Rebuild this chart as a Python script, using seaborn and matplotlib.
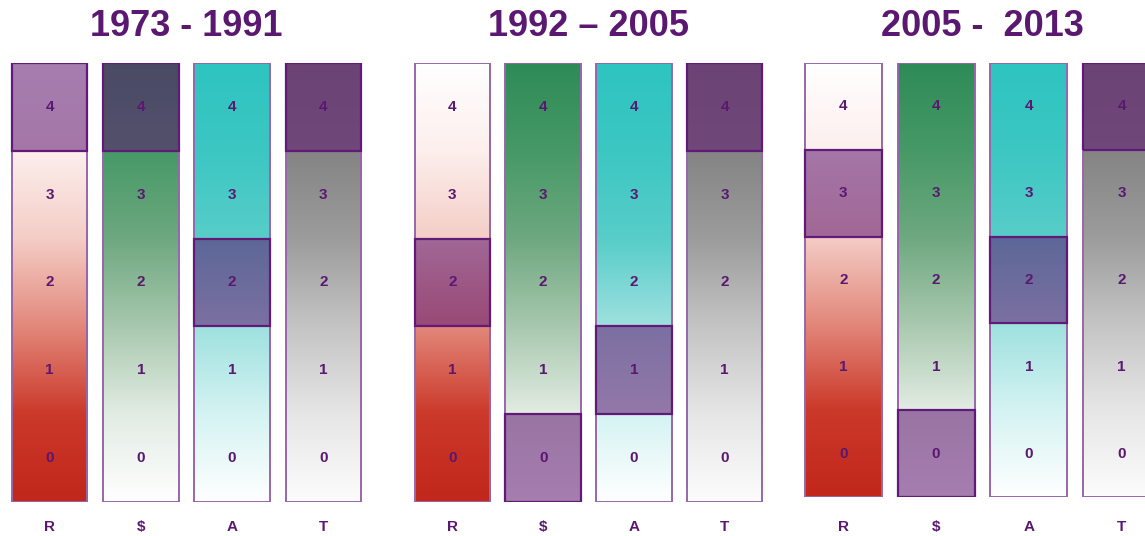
import numpy as np
import matplotlib.pyplot as plt
from matplotlib.patches import Rectangle
from matplotlib.transforms import blended_transform_factory
import seaborn as sns

# data
periods = ["1973 - 1991", "1992 – 2005", "2005 -  2013"]
factors = ["R", "$", "A", "T"]
levels = [0, 1, 2, 3, 4]

# highlighted level of each factor (R, $, A, T) in each period
rating_1973 = [4, 4, 2, 4]
rating_1992 = [2, 0, 1, 4]
rating_2005 = [3, 0, 2, 4]
ratings = [rating_1973, rating_1992, rating_2005]

# colour stops of each column, bottom (0) -> top (5)
grad_R = ["#c1271b", "#cb392a", "#e2887b", "#f4cdc6", "#fcefed", "#ffffff"]
grad_S = ["#ffffff", "#e2ece3", "#a8c8ae", "#6ea880", "#469966", "#2e8b57"]
grad_A = ["#ffffff", "#d4f3f2", "#9ee1df", "#58cdc9", "#3cc7c3", "#2ec4c0"]
grad_T = ["#fcfcfc", "#e6e6e6", "#c4c4c4", "#9c9c9c", "#848484", "#7a7a7a"]
gradients = [grad_R, grad_S, grad_A, grad_T]

purple = "#5a1870"

sns.set_theme(style="white")
plt.rcParams["font.family"] = ["Liberation Sans", "DejaVu Sans"]

W, H = 1145, 536
fig = plt.figure(figsize=(W / 100, H / 100), dpi=100)

# panel frames in pixels: left, right, top, bottom
panel_px = [(4, 369, 63, 502), (407, 770, 63, 502), (797, 1168, 63, 497)]
bar_w = 0.83
ramp = np.linspace(0, 1, 256).reshape(-1, 1)

for p, (title, rating) in enumerate(zip(periods, ratings)):
    l, r, t, b = panel_px[p]
    ax = fig.add_axes([l / W, (H - b) / H, (r - l) / W, (b - t) / H])
    ax.set_xlim(-0.5, len(factors) - 0.5)
    ax.set_ylim(0, len(levels))
    ax.axis("off")
    trans = blended_transform_factory(ax.transData, fig.transFigure)

    for i, f in enumerate(factors):
        cmap = sns.blend_palette(gradients[i], as_cmap=True)
        x0 = i - bar_w / 2
        ax.imshow(ramp, extent=[x0, x0 + bar_w, 0, len(levels)], origin="lower",
                  cmap=cmap, aspect="auto", vmin=0, vmax=1, interpolation="bilinear")
        ax.add_patch(Rectangle((x0, 0), bar_w, len(levels), facecolor="none",
                               edgecolor="#9766aa", lw=1.4))
        # highlighted level
        lv = rating[i]
        ax.add_patch(Rectangle((x0, lv), bar_w, 1, facecolor="#601871", alpha=0.56,
                               edgecolor="none"))
        ax.add_patch(Rectangle((x0, lv), bar_w, 1, facecolor="none",
                               edgecolor="#621a78", lw=1.6))
        for v in levels:
            ax.text(i, v + 0.5, str(v), ha="center", va="center", fontsize=11,
                    fontweight="bold", color=purple)
        ax.text(i, 1 - 527 / H, f, transform=trans, ha="center", va="center",
                fontsize=11, fontweight="bold", color=purple, clip_on=False)

    fig.text((l + r) / 2 / W, 1 - 26 / H, title, ha="center", va="center",
             fontsize=26, fontweight="bold", color=purple)

fig.savefig("out.png", dpi=100)
